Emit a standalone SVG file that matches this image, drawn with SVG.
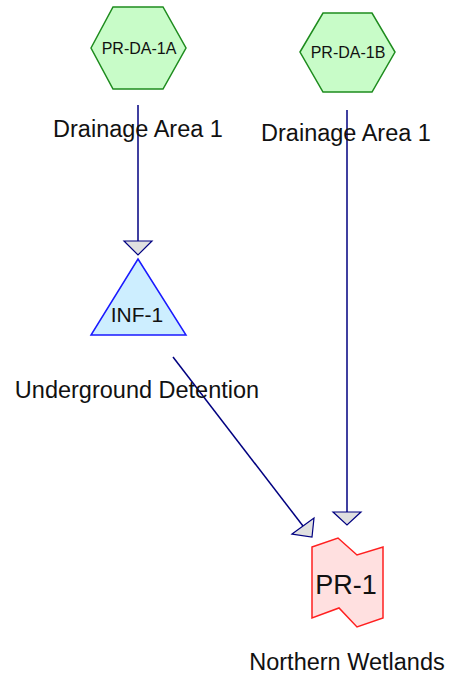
<svg xmlns="http://www.w3.org/2000/svg" width="460" height="676" viewBox="0 0 460 676">
  <style>
    text { font-family: "Liberation Sans", Arial, sans-serif; fill: #111; text-anchor: middle; }
    .lbl { font-size: 23.5px; }
    .code { font-size: 16px; }
    .hex { fill: #c8fcc8; stroke: #1e8c1e; stroke-width: 1.5; }
    .tri { fill: #cdeeff; stroke: #1a1aff; stroke-width: 1.5; }
    .out { fill: #ffe0e0; stroke: #ff2020; stroke-width: 1.5; }
    .link { stroke: #000080; stroke-width: 1.5; fill: none; }
    .head { fill: #e0e0e0; stroke: #000080; stroke-width: 1.2; }
  </style>
  <rect width="460" height="676" fill="#ffffff"/>

  <g id="connectors">
    <!-- PR-DA-1A to INF-1 -->
    <line class="link" x1="138" y1="105" x2="138" y2="241"/>
    <polygon class="head" points="124,241 152,241 138,255"/>
    <!-- PR-DA-1B to PR-1 -->
    <line class="link" x1="347" y1="110" x2="347" y2="512"/>
    <polygon class="head" points="333,512 361,512 347,525"/>
    <!-- INF-1 to PR-1 -->
    <line class="link" x1="173" y1="357" x2="303" y2="526"/>
    <polygon class="head" points="292,534 314,518 312,537"/>
  </g>

  <g id="PR-DA-1A">
    <polygon class="hex" points="91,48 113,7 163,7 186,48 163,89 113,89"/>
    <text class="code" x="139" y="54">PR-DA-1A</text>
    <text class="lbl" x="138" y="136.5">Drainage Area 1</text>
  </g>

  <g id="PR-DA-1B">
    <polygon class="hex" points="300,52 323,13 372,13 395,52 372,92 323,92"/>
    <text class="code" x="348" y="58">PR-DA-1B</text>
    <text class="lbl" x="346" y="141">Drainage Area 1</text>
  </g>

  <g id="INF-1">
    <polygon class="tri" points="138,259 186,335 91,335"/>
    <text x="137" y="322" font-size="21">INF-1</text>
    <text class="lbl" x="137" y="397.5">Underground Detention</text>
  </g>

  <g id="PR-1">
    <polygon class="out" points="312,547 338,538 357,555 383,547 383,618 357,627 339,608 312,618"/>
    <text x="346" y="594" font-size="27">PR-1</text>
    <text class="lbl" x="347" y="670">Northern Wetlands</text>
  </g>
</svg>
